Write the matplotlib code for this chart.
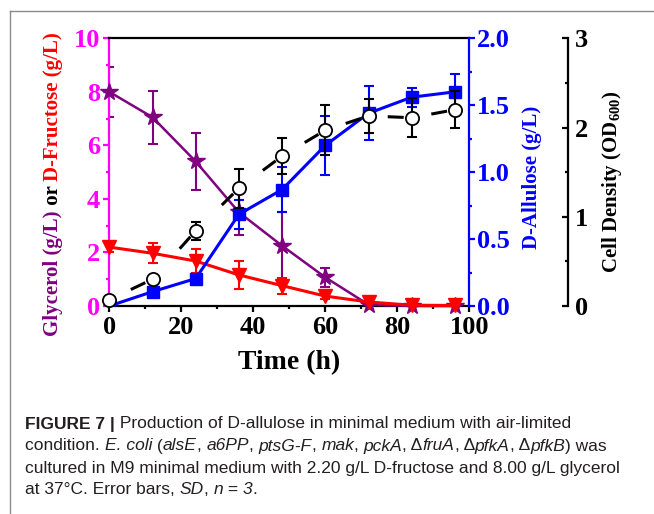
import numpy as np
import matplotlib
matplotlib.use("Agg")
import matplotlib.pyplot as plt
from matplotlib.ticker import MultipleLocator, FormatStrFormatter
from matplotlib.lines import Line2D

# ---------------- data ----------------
time_h = [0, 12, 24, 36, 48, 60, 72, 84, 96]
glycerol = [8.0, 7.05, 5.4, 3.5, 2.25, 1.07, 0.05, 0.0, 0.0]
glycerol_err = [0.93, 0.98, 1.05, 0.85, 1.27, 0.35, 0.04, 0.0, 0.0]
fructose = [2.2, 1.97, 1.68, 1.16, 0.76, 0.37, 0.15, 0.03, 0.02]
fructose_err = [0.2, 0.38, 0.45, 0.52, 0.3, 0.12, 0.08, 0.03, 0.02]
allulose = [0.0, 0.107, 0.205, 0.685, 0.87, 1.2, 1.44, 1.56, 1.6]
allulose_err = [0.0, 0.02, 0.03, 0.11, 0.17, 0.22, 0.2, 0.07, 0.13]
od600 = [0.07, 0.3, 0.843, 1.32, 1.68, 1.97, 2.13, 2.11, 2.2]
od600_err = [0.03, 0.03, 0.1, 0.22, 0.2, 0.28, 0.19, 0.22, 0.21]

x_ticks = [0, 20, 40, 60, 80, 100]
left_ticks = [0, 2, 4, 6, 8, 10]
blue_ticks = [0.0, 0.5, 1.0, 1.5, 2.0]
od_ticks = [0, 1, 2, 3]

caption_lines = [
    [("FIGURE 7 |", "bold"), (" Production of D-allulose in minimal medium with air-limited", "normal")],
    [("condition. ", "normal"), ("E. coli", "italic"), (" (", "normal"), ("alsE", "italic"),
     (", ", "normal"), ("a6PP", "italic"), (", ", "normal"), ("ptsG-F", "italic"),
     (", ", "normal"), ("mak", "italic"), (", ", "normal"), ("pckA", "italic"),
     (", Δ", "normal"), ("fruA", "italic"), (", Δ", "normal"), ("pfkA", "italic"),
     (", Δ", "normal"), ("pfkB", "italic"), (") was", "normal")],
    [("cultured in M9 minimal medium with 2.20 g/L D-fructose and 8.00 g/L glycerol", "normal")],
    [("at 37°C. Error bars, ", "normal"), ("SD", "italic"), (", ", "normal"), ("n", "italic"),
     (" = ", "normal"), ("3", "italic"), (".", "normal")],
]

# ---------------- style ----------------
MAGENTA = "#FF00FF"
PURPLE = "#800080"
RED = "#FF0000"
BLUE = "#0000FF"

plt.rcParams["font.family"] = ["Liberation Serif", "DejaVu Serif"]
plt.rcParams["font.weight"] = "bold"
plt.rcParams["mathtext.fontset"] = "custom"
plt.rcParams["mathtext.rm"] = "Liberation Serif"
plt.rcParams["mathtext.bf"] = "Liberation Serif:bold"

W, H = 654, 514
DPI = 100
fig = plt.figure(figsize=(W / DPI, H / DPI), dpi=DPI)
fig.patch.set_facecolor("white")


def fx(px):
    return px / W


def fy(py):
    return 1 - py / H


L_PX, R_PX, T_PX, B_PX = 109.3, 469.3, 38.3, 306.0
ax = fig.add_axes([fx(L_PX), fy(B_PX), fx(R_PX) - fx(L_PX), fy(T_PX) - fy(B_PX)])
ax2 = ax.twinx()
ax3 = ax.twinx()

ax.set_xlim(0, 100)
ax.set_ylim(0, 10)
ax2.set_ylim(0, 2)
ax3.set_ylim(0, 3)

SPW = 1.6
# spines
ax.spines["right"].set_visible(False)
ax.spines["left"].set_color(MAGENTA)
for s in ["top", "bottom"]:
    ax.spines[s].set_color("black")
for s in ["left", "bottom", "top", "right"]:
    ax.spines[s].set_linewidth(SPW)
for s in ["left", "top", "bottom"]:
    ax2.spines[s].set_visible(False)
    ax3.spines[s].set_visible(False)
ax2.spines["right"].set_color(BLUE)
ax2.spines["right"].set_linewidth(SPW)
ax3.spines["right"].set_position(("axes", (568.3 - L_PX) / (R_PX - L_PX)))
ax3.spines["right"].set_color("black")
ax3.spines["right"].set_linewidth(SPW)
ax2.patch.set_visible(False)
ax3.patch.set_visible(False)

# ticks
ax.set_xticks(x_ticks)
ax.xaxis.set_minor_locator(MultipleLocator(10))
ax.set_yticks(left_ticks)
ax.yaxis.set_minor_locator(MultipleLocator(1))
ax2.set_yticks(blue_ticks)
ax2.yaxis.set_major_formatter(FormatStrFormatter("%.1f"))
ax2.yaxis.set_minor_locator(MultipleLocator(0.25))
ax3.set_yticks(od_ticks)
ax3.yaxis.set_minor_locator(MultipleLocator(0.5))

TFS = 19
ax.tick_params(axis="x", which="both", direction="out", colors="black", width=SPW, top=False)
ax.tick_params(axis="x", which="major", length=4.5, labelsize=TFS, pad=3)
ax.tick_params(axis="x", which="minor", length=2.5)
ax.tick_params(axis="y", which="both", direction="out", colors=MAGENTA, width=SPW, right=False)
ax.tick_params(axis="y", which="major", length=4.5, labelsize=TFS, pad=2)
ax.tick_params(axis="y", which="minor", length=2.5)
ax2.tick_params(axis="y", which="both", direction="out", colors=BLUE, width=SPW)
ax2.tick_params(axis="y", which="major", length=4.5, labelsize=TFS, pad=1)
ax2.tick_params(axis="y", which="minor", length=2.5)
ax3.tick_params(axis="y", which="both", direction="in", colors="black", width=SPW)
ax3.tick_params(axis="y", which="major", length=4.5, labelsize=TFS, pad=5)
ax3.tick_params(axis="y", which="minor", length=2.5)
for a in (ax, ax2, ax3):
    for lab in a.get_xticklabels() + a.get_yticklabels():
        lab.set_fontweight("bold")

# ---------------- data drawing ----------------
EKW = dict(elinewidth=1.5, capsize=3.5, capthick=1.5)

# glycerol
ax.errorbar(time_h, glycerol, yerr=glycerol_err, fmt="none", ecolor=PURPLE, **EKW)
ax.plot(time_h, glycerol, color=PURPLE, lw=1.8, marker="*", ms=13, mfc=PURPLE,
        mec=PURPLE, clip_on=False, zorder=3)

# fructose
ax.errorbar(time_h, fructose, yerr=fructose_err, fmt="none", ecolor=RED, **EKW)
ax.plot(time_h, fructose, color=RED, lw=2.2, marker="v", ms=10.5, mfc=RED,
        mec=RED, clip_on=False, zorder=4)

# allulose
ax2.errorbar(time_h, allulose, yerr=allulose_err, fmt="none", ecolor=BLUE, **EKW)
ax2.plot(time_h, allulose, color=BLUE, lw=2.2, marker="s", ms=8, mfc=BLUE,
         mec=BLUE, zorder=3)


def gapped_line(axis, xs, ys, dash_px, end_gap_px, **kw):
    T = axis.transData
    pts = T.transform(np.column_stack([xs, ys]))
    inv = T.inverted()
    for p0, p1 in zip(pts[:-1], pts[1:]):
        d = p1 - p0
        length = np.hypot(d[0], d[1])
        u = d / length
        b = p1 - u * end_gap_px
        a = p1 - u * min(end_gap_px + dash_px, length - end_gap_px)
        seg = inv.transform(np.vstack([a, b]))
        axis.plot(seg[:, 0], seg[:, 1], solid_capstyle="butt", **kw)


# cell density
gapped_line(ax3, time_h, od600, dash_px=16, end_gap_px=8, color="black", lw=2.2, zorder=2)
ax3.errorbar(time_h, od600, yerr=od600_err, fmt="none", ecolor="black", **EKW)
ax3.plot(time_h, od600, ls="none", marker="o", ms=9.5, mfc="white", mec="black",
         mew=1.3, clip_on=False, zorder=5)

# ---------------- axis labels ----------------
ax.xaxis.set_label_coords(0.5, -0.163)
ax.set_xlabel("Time (h)", fontsize=20, fontweight="bold", va="top")

LFS = 15
fig.text(fx(536.5), fy(177.5), "D-Allulose (g/L)", color=BLUE, fontsize=LFS,
         fontweight="bold", rotation=90, rotation_mode="anchor", ha="center", va="baseline")
fig.text(fx(616.5), fy(182), r"Cell Density (OD$_{\mathbf{600}}$)", color="black",
         fontsize=LFS, fontweight="bold", rotation=90, rotation_mode="anchor",
         ha="center", va="baseline")

fig.canvas.draw()
renderer = fig.canvas.get_renderer()


def run_width(s, **props):
    t1 = fig.text(0, 0, "x" + s + "x", **props)
    t2 = fig.text(0, 0, "xx", **props)
    w = t1.get_window_extent(renderer).width - t2.get_window_extent(renderer).width
    t1.remove()
    t2.remove()
    return w


# multi-coloured left label (rotated)
left_parts = [("Glycerol (g/L)", PURPLE), (" or ", "black"), ("D-Fructose (g/L)", RED)]
lprops = dict(fontsize=LFS, fontweight="bold")
widths = [run_width(s, **lprops) for s, _ in left_parts]
total = sum(widths)
y_cursor = 184 + total / 2  # pixel from top, start at bottom
for (s, c), w in zip(left_parts, widths):
    fig.text(fx(58), fy(y_cursor), s, color=c, rotation=90, rotation_mode="anchor",
             ha="left", va="baseline", **lprops)
    y_cursor -= w

# ---------------- caption ----------------
CFS = 12.5
cap_base = dict(fontsize=CFS, family=["Liberation Sans", "DejaVu Sans"])
baselines = [428.5, 450.5, 472.5, 494.5]
for line, yb in zip(caption_lines, baselines):
    x = 25.0
    for s, style in line:
        props = dict(cap_base)
        if style == "bold":
            props.update(fontweight="bold", fontstyle="normal")
        elif style == "italic":
            props.update(fontweight="normal", fontstyle="italic")
        else:
            props.update(fontweight="normal", fontstyle="normal")
        w = run_width(s, **props)
        fig.text(fx(x), fy(yb), s, ha="left", va="baseline", color="#231f20", **props)
        x += w

# ---------------- outer frame ----------------
fig.add_artist(Line2D([fx(9.5), fx(9.5)], [fy(10.5), 0], transform=fig.transFigure,
                      color="#8a8a8a", lw=1.0))
fig.add_artist(Line2D([fx(9.5), 1], [fy(10.5), fy(10.5)], transform=fig.transFigure,
                      color="#8a8a8a", lw=1.0))

fig.savefig("out.png", dpi=DPI, facecolor="white")
